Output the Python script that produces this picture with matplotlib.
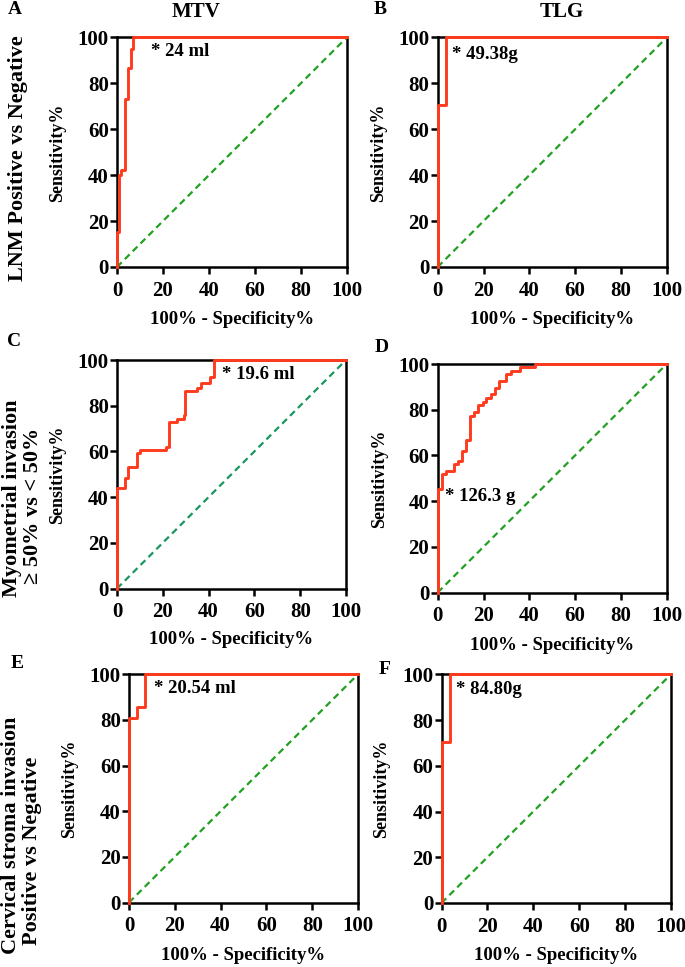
import matplotlib
matplotlib.use("Agg")
import matplotlib.pyplot as plt

plt.rcParams['font.family'] = ['Liberation Serif', 'DejaVu Serif']
plt.rcParams['font.weight'] = 'bold'

# ROC step corners (100% - specificity, sensitivity)
mtv_lnm_fpr = [0, 0, 0.9, 1.9, 3.6, 4.8, 5.9, 7.1, 100]
mtv_lnm_tpr = [0, 15.3, 40.0, 42.2, 73.4, 86.5, 95.2, 100, 100]

tlg_lnm_fpr = [0, 0, 3.6, 100]
tlg_lnm_tpr = [0, 70.5, 100, 100]

mtv_myo_fpr = [0, 0, 3.6, 5.0, 8.8, 10.2, 21.2, 22.7, 26.3, 29.1, 29.9,
               35.0, 36.7, 40.7, 42.2, 100]
mtv_myo_tpr = [0, 44.1, 48.5, 53.0, 59.1, 60.6, 62.0, 72.7, 74.2, 75.8, 86.4,
               87.9, 89.8, 92.7, 100, 100]

tlg_myo_fpr = [0, 0, 1.7, 3.6, 7.2, 9.0, 10.4, 12.2, 14.1, 15.9, 17.7, 19.6,
               21.3, 23.2, 24.9, 26.7, 30.0, 31.9, 35.8, 42.6, 100]
tlg_myo_tpr = [0, 45.5, 51.7, 53.3, 56.2, 57.5, 62.0, 66.7, 77.4, 78.8, 82.0,
               83.5, 85.1, 86.7, 89.6, 92.6, 95.5, 97.1, 98.5, 100, 100]

mtv_csi_fpr = [0, 0, 3.3, 7.2, 100]
mtv_csi_tpr = [0, 80.7, 85.8, 100, 100]

tlg_csi_fpr = [0, 0, 3.6, 100]
tlg_csi_tpr = [0, 70.5, 100, 100]

chance_x = [0, 100]
chance_y = [0, 100]
ticks = [0, 20, 40, 60, 80, 100]

cutoffs = ["* 24 ml", "* 49.38g", "* 19.6 ml", "* 126.3 g", "* 20.54 ml", "* 84.80g"]
letters = ["A", "B", "C", "D", "E", "F"]

W, H = 685, 967
fig = plt.figure(figsize=(W / 100, H / 100), dpi=100)


def fx(px):
    return px / W


def fy(py):
    return 1 - py / H


# axes boxes in pixels: left, right, top, bottom
boxes = [
    (117, 346.7, 37.5, 267),
    (437.7, 666.7, 37.5, 267),
    (117, 346, 360, 588.5),
    (437.7, 666.7, 364, 592.5),
    (129, 358, 674.3, 902.5),
    (441.5, 671, 674.3, 903),
]
curves = [
    (mtv_lnm_fpr, mtv_lnm_tpr),
    (tlg_lnm_fpr, tlg_lnm_tpr),
    (mtv_myo_fpr, mtv_myo_tpr),
    (tlg_myo_fpr, tlg_myo_tpr),
    (mtv_csi_fpr, mtv_csi_tpr),
    (tlg_csi_fpr, tlg_csi_tpr),
]
cut_pos = [(15, 94), (6.1, 92.5), (45.7, 93.7), (3.2, 41.9), (11, 93.8), (6.3, 93.5)]
diag_colors = ['#22a022', '#22a022', '#1a9660', '#22a022', '#22a022', '#22a022']
letter_pos = [(15, 10), (380, 10), (14, 341), (382, 347), (17, 664), (385, 669)]
ylab_x = [58, 379, 57.5, 380, 70, 382]
xlab_y = [320, 320, 640, 645, 955, 956]

red = '#ff3b1e'

for i, (l, r, t, b) in enumerate(boxes):
    ax = fig.add_axes([fx(l), fy(b), fx(r - l), (b - t) / H])
    x, y = curves[i]
    ax.plot(chance_x, chance_y, color=diag_colors[i], lw=1.6,
            dashes=(3, 2), clip_on=False, zorder=3)
    ax.step(x, y, where='post', color=red, lw=2.1, clip_on=False, zorder=4)
    ax.set_xlim(0, 100)
    ax.set_ylim(0, 100)
    ax.set_xticks(ticks)
    ax.set_yticks(ticks)
    for s in ax.spines.values():
        s.set_linewidth(1.8)
        s.set_color('black')
    ax.tick_params(direction='out', length=5, width=1.8, labelsize=15,
                   pad=1)
    ax.tick_params(axis='x', pad=5)
    for lab in ax.get_xticklabels() + ax.get_yticklabels():
        lab.set_fontweight('bold')
    cx, cy = cut_pos[i]
    ax.text(cx, cy, cutoffs[i], fontsize=13.5, fontweight='bold',
            ha='left', va='center')

    # axis labels
    fig.text(fx(ylab_x[i]), fy((t + b) / 2), "Sensitivity%", rotation=90,
             fontsize=13, fontweight='bold', ha='center', va='center')
    fig.text(fx((l + r) / 2), fy(xlab_y[i]), "100% - Specificity%",
             fontsize=13.5, fontweight='bold', ha='center', va='center')

    lx, ly = letter_pos[i]
    fig.text(fx(lx), fy(ly), letters[i], fontsize=14, fontweight='bold',
             ha='center', va='center')

# column titles
fig.text(fx(196), fy(12), "MTV", fontsize=15, fontweight='bold',
         ha='center', va='center')
fig.text(fx(562), fy(12), "TLG", fontsize=15, fontweight='bold',
         ha='center', va='center')

# row titles
row_kw = dict(rotation=90, fontsize=16, fontweight='bold',
              ha='center', va='center')
fig.text(fx(18), fy(158), "LNM Positive vs Negative", **row_kw)
fig.text(fx(12), fy(498), "Myometrial invasion", **row_kw)
fig.text(fx(33), fy(506), "\u2265 50% vs < 50%", **row_kw)
fig.text(fx(11), fy(835), "Cervical stroma invasion", **row_kw)
fig.text(fx(32), fy(851), "Positive vs Negative", **row_kw)

fig.savefig("out.png", dpi=100)
